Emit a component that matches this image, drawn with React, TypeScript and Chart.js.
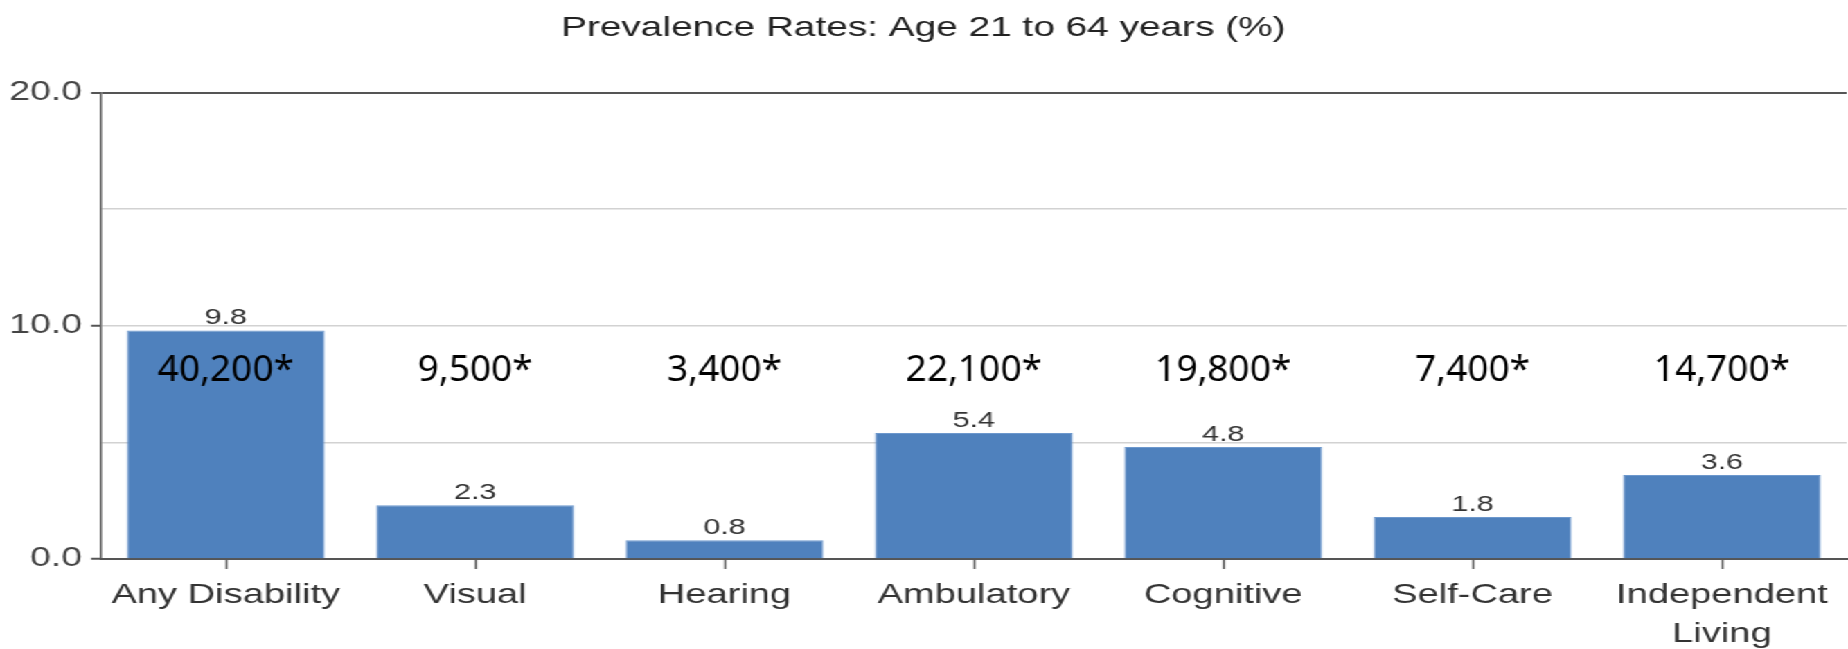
import React, { useEffect, useRef } from 'react';
import { Chart, registerables } from 'chart.js';

Chart.register(...registerables);

// ---- data ----
const chartTitle = 'Prevalence Rates: Age 21 to 64 years (%)';
const categories: (string | string[])[] = [
  'Any Disability',
  'Visual',
  'Hearing',
  'Ambulatory',
  'Cognitive',
  'Self-Care',
  ['Independent', 'Living'],
];
const rates = [9.8, 2.3, 0.8, 5.4, 4.8, 1.8, 3.6];
const counts = ['40,200*', '9,500*', '3,400*', '22,100*', '19,800*', '7,400*', '14,700*'];
const yLabelledTicks = [0, 10, 20];

// ---- layout constants ----
const FULL_W = 1848;
const H = 649;
const CANVAS_W = 1334;
const STRETCH = FULL_W / CANVAS_W;
const COUNT_LEVEL = 8.2;

const labelPlugin = {
  id: 'barLabels',
  afterDatasetsDraw(chart: any) {
    const ctx = chart.ctx as CanvasRenderingContext2D;
    const meta = chart.getDatasetMeta(0);
    const yScale = chart.scales.y;
    ctx.save();
    ctx.fillStyle = '#333';
    ctx.font = '22px "Liberation Sans", Arial, sans-serif';
    ctx.textAlign = 'center';
    ctx.textBaseline = 'alphabetic';
    meta.data.forEach((bar: any, i: number) => {
      ctx.fillText(rates[i].toFixed(1), bar.x, bar.y - 6);
    });
    const cy = yScale.getPixelForValue(COUNT_LEVEL);
    ctx.fillStyle = '#000';
    ctx.font = '37px "Noto Sans", sans-serif';
    meta.data.forEach((bar: any, i: number) => {
      ctx.save();
      ctx.translate(bar.x, cy);
      ctx.scale(1 / STRETCH, 1);
      ctx.fillText(counts[i], 0, 13);
      ctx.restore();
    });
    ctx.restore();
  },
};

export default function App() {
  const canvasRef = useRef<HTMLCanvasElement | null>(null);

  useEffect(() => {
    if (!canvasRef.current) return;
    const chart = new Chart(canvasRef.current, {
      type: 'bar',
      data: {
        labels: categories,
        datasets: [
          {
            data: rates,
            backgroundColor: '#4f81bd',
            borderColor: '#6d98cd',
            borderWidth: 1,
            barPercentage: 0.794,
            categoryPercentage: 1,
          },
        ],
      },
      options: {
        animation: false,
        responsive: false,
        devicePixelRatio: 1,
        layout: { padding: { left: 0, right: 1, top: 0, bottom: 0 } },
        plugins: {
          legend: { display: false },
          tooltip: { enabled: false },
          title: {
            display: true,
            text: chartTitle,
            color: '#222',
            font: { family: '"Liberation Sans", Arial, sans-serif', size: 28, weight: 'normal' },
            padding: { top: 11, bottom: 48 },
          },
        },
        scales: {
          x: {
            offset: true,
            grid: {
              offset: false,
              drawOnChartArea: false,
              drawTicks: true,
              tickLength: 10,
              tickColor: '#555',
              tickWidth: 1.5,
            },
            border: { display: true, color: '#555', width: 2 },
            ticks: {
              autoSkip: false,
              maxRotation: 0,
              minRotation: 0,
              padding: 6,
              color: '#333',
              font: { family: '"Liberation Sans", Arial, sans-serif', size: 27.5, lineHeight: 1.45 },
            },
            afterFit: (s: any) => {
              s.height = 90;
            },
          },
          y: {
            min: 0,
            max: 20,
            ticks: {
              stepSize: 5,
              padding: 6.6,
              color: '#444',
              font: { family: '"Liberation Sans", Arial, sans-serif', size: 27 },
              callback: (v: any) => (yLabelledTicks.includes(Number(v)) ? Number(v).toFixed(1) : ''),
            },
            grid: {
              color: (c: any) => {
                const v = c.tick ? c.tick.value : null;
                if (v === 20) return '#555';
                if (v === 0) return 'rgba(0,0,0,0)';
                return '#d2d2d2';
              },
              lineWidth: (c: any) => (c.tick && c.tick.value === 20 ? 2 : 1.5),
              tickColor: (c: any) =>
                c.tick && yLabelledTicks.includes(c.tick.value) ? '#555' : 'rgba(0,0,0,0)',
              tickLength: 7.2,
              tickWidth: 2,
            },
            border: { display: true, color: '#555', width: 1.5 },
            afterFit: (s: any) => {
              s.width = 73;
            },
          },
        },
      },
      plugins: [labelPlugin],
    } as any);
    return () => chart.destroy();
  }, []);

  return (
    <div
      style={{
        position: 'absolute',
        left: 0,
        top: 0,
        width: CANVAS_W,
        height: H,
        transform: `scaleX(${STRETCH})`,
        transformOrigin: '0 0',
        background: '#fff',
      }}
    >
      <canvas
        ref={canvasRef}
        width={CANVAS_W}
        height={H}
        style={{ width: CANVAS_W + 'px', height: H + 'px', display: 'block' }}
      />
    </div>
  );
}
